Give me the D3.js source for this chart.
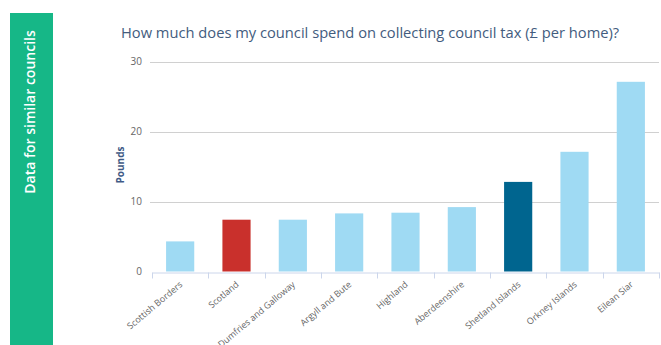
<!DOCTYPE html>
<html>
<head>
<meta charset="utf-8">
<script src="https://cdn.jsdelivr.net/npm/d3@7"></script>
<style>
  html, body { margin: 0; padding: 0; background: #fff; }
  svg { display: block; font-family: "Open Sans", "Noto Sans", sans-serif; }
</style>
</head>
<body>
<svg id="chart" width="661" height="345"></svg>
<script>
// Council tax collection cost per home (£)
const councils = ["Scottish Borders", "Scotland", "Dumfries and Galloway", "Argyll and Bute",
  "Highland", "Aberdeenshire", "Shetland Islands", "Orkney Islands", "Eilean Siar"];
const costs = [4.3, 7.4, 7.4, 8.3, 8.4, 9.2, 12.8, 17.1, 27.1];
const barColours = ["#9fdaf3", "#c9302c", "#9fdaf3", "#9fdaf3", "#9fdaf3", "#9fdaf3", "#00658f", "#9fdaf3", "#9fdaf3"];
const yTicks = [0, 10, 20, 30];

const svg = d3.select("#chart");

// Side tab
svg.append("rect").attr("x", 10).attr("y", 13).attr("width", 43).attr("height", 340)
  .attr("fill", "#16b787");
svg.append("text")
  .attr("transform", "translate(35,112) rotate(-90)")
  .attr("text-anchor", "middle")
  .attr("fill", "#fff")
  .attr("font-size", 14)
  .attr("font-weight", 600)
  .text("Data for similar councils");

// Title
svg.append("text").attr("x", 121).attr("y", 37.5)
  .attr("fill", "#435c7e").attr("font-size", 14.7)
  .text("How much does my council spend on collecting council tax (£ per home)?");

const plotLeft = 152, plotRight = 659, plotTop = 61.5, plotBottom = 271.5;

const x = d3.scaleBand().domain(councils).range([plotLeft, plotRight]).paddingInner(0.5).paddingOuter(0.25);
const xTickScale = d3.scaleBand().domain(councils).range([plotLeft, plotRight]);
const y = d3.scaleLinear().domain([0, 30]).range([plotBottom, plotTop]);

// Gridlines and y labels
const yAxis = svg.append("g").attr("transform", `translate(${plotLeft},0)`)
  .call(d3.axisLeft(y).tickValues(yTicks).tickSize(0).tickPadding(10));
yAxis.select(".domain").remove();
yAxis.selectAll("text").attr("fill", "#666").attr("font-size", 10)
  .attr("font-family", "'Open Sans', sans-serif");
svg.append("g").selectAll("line").data(yTicks.filter(d => d > 0)).join("line")
  .attr("x1", plotLeft - 2).attr("x2", plotRight)
  .attr("y1", d => Math.round(y(d)) + 0.5).attr("y2", d => Math.round(y(d)) + 0.5)
  .attr("stroke", "#d0d0d0").attr("stroke-width", 1);

// Y axis title
svg.append("text").attr("transform", "translate(124,165) rotate(-90)")
  .attr("text-anchor", "middle").attr("fill", "#3f5a86").attr("font-size", 10).attr("font-weight", 700)
  .text("Pounds");

// Bars
svg.append("g").selectAll("rect").data(councils).join("rect")
  .attr("x", d => x(d)).attr("width", x.bandwidth())
  .attr("y", (d, i) => y(costs[i])).attr("height", (d, i) => y(0) - y(costs[i]))
  .attr("fill", (d, i) => barColours[i]);

// X axis
const xAxis = svg.append("g").attr("transform", `translate(0,${Math.round(plotBottom) + 0.5})`)
  .call(d3.axisBottom(xTickScale).tickSize(0).tickPadding(0));
xAxis.select(".domain").attr("stroke", "#ccd6eb");
xAxis.selectAll(".tick").remove();
// category boundary ticks
const bounds = councils.map(d => xTickScale(d)).concat([plotRight]);
xAxis.selectAll(".bound").data(bounds).join("line").attr("class", "bound")
  .attr("x1", d => Math.round(d) + 0.5).attr("x2", d => Math.round(d) + 0.5)
  .attr("y1", 0).attr("y2", 6).attr("stroke", "#ccd6eb");
xAxis.selectAll(".lbl").data(councils).join("text").attr("class", "lbl")
  .attr("transform", d => `translate(${xTickScale(d) + xTickScale.bandwidth() / 2 + 3},13) rotate(-40)`)
  .attr("text-anchor", "end").attr("fill", "#666").attr("font-size", 9)
  .attr("font-family", "'Open Sans', sans-serif")
  .text(d => d);
</script>
</body>
</html>
